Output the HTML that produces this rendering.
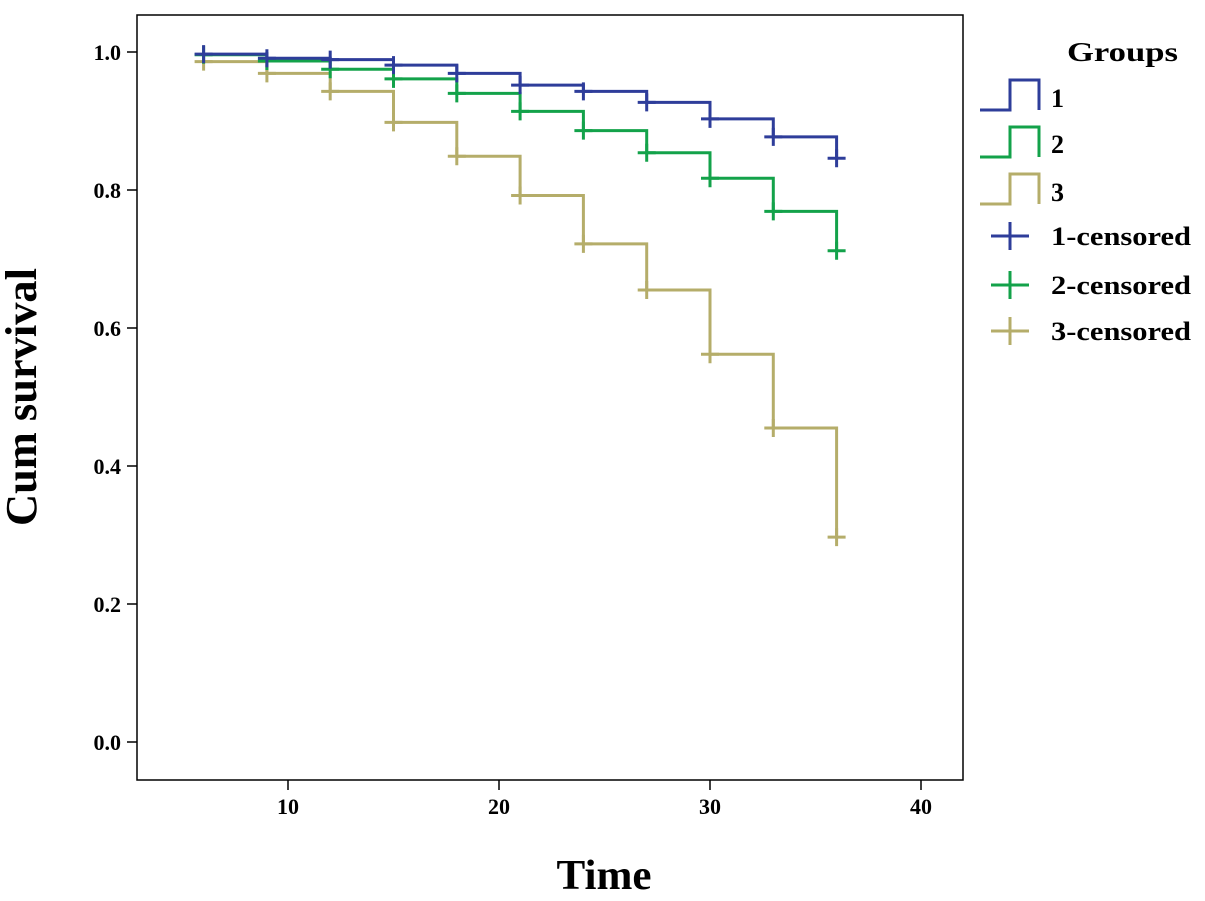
<!DOCTYPE html>
<html><head><meta charset="utf-8"><style>
body{margin:0;background:#fff;}
svg{display:block;font-family:"Liberation Serif",serif;font-weight:bold;}
</style></head><body>
<svg id="chart" width="1205" height="901" viewBox="0 0 1205 901">
<rect x="137" y="15" width="826" height="765" fill="none" stroke="#000" stroke-width="1.5"/>
<g id="axes"></g>
<g id="series"></g>
<text x="36" y="397" font-size="44" text-anchor="middle" textLength="258" lengthAdjust="spacingAndGlyphs" transform="rotate(-90 36 397)">Cum survival</text>
<text x="604" y="889" font-size="42" text-anchor="middle" textLength="95" lengthAdjust="spacingAndGlyphs">Time</text>
<g>
<text x="1067" y="61" font-size="27" textLength="111" lengthAdjust="spacingAndGlyphs">Groups</text>
<g><path d="M980 110H1010V80H1039V110" fill="none" stroke="#2e3d9a" stroke-width="3"/><text x="1051" y="107" font-size="26">1</text></g>
<g><path d="M980 157H1010V127H1039V157" fill="none" stroke="#13a24a" stroke-width="3"/><text x="1051" y="153" font-size="26">2</text></g>
<g><path d="M980 204H1010V174H1039V204" fill="none" stroke="#b5ad6a" stroke-width="3"/><text x="1051" y="201" font-size="26">3</text></g>
<g><path d="M991 236H1029M1010 222V250" stroke="#2e3d9a" stroke-width="3"/><text x="1051" y="245" font-size="26" textLength="140" lengthAdjust="spacingAndGlyphs">1-censored</text></g>
<g><path d="M991 285H1029M1010 271V299" stroke="#13a24a" stroke-width="3"/><text x="1051" y="294" font-size="26" textLength="140" lengthAdjust="spacingAndGlyphs">2-censored</text></g>
<g><path d="M991 331H1029M1010 317V345" stroke="#b5ad6a" stroke-width="3"/><text x="1051" y="340" font-size="26" textLength="140" lengthAdjust="spacingAndGlyphs">3-censored</text></g>
</g>
</svg>
<script>
const times=[6,9,12,15,18,21,24,27,30,33,36];
const group1=[0.997,0.991,0.989,0.981,0.969,0.952,0.943,0.927,0.903,0.877,0.846];
const group2=[0.996,0.987,0.975,0.961,0.940,0.914,0.886,0.854,0.817,0.769,0.712];
const group3=[0.986,0.969,0.943,0.898,0.849,0.792,0.722,0.655,0.562,0.455,0.297];
const xTicks=[10,20,30,40];
const yTicks=[0,0.2,0.4,0.6,0.8,1.0];
const NS="http://www.w3.org/2000/svg";
const xs=t=>288+(t-10)*21.1;
const ys=v=>742-v*690;
function mk(tag,attrs,parent){const e=document.createElementNS(NS,tag);for(const k in attrs)e.setAttribute(k,attrs[k]);parent.appendChild(e);return e;}
const axes=document.getElementById('axes');
xTicks.forEach(t=>{
  const l=mk('line',{x1:xs(t),x2:xs(t),y1:780,y2:790,stroke:'#000','stroke-width':1.5},axes);
  
  
  const tx=mk('text',{x:xs(t),y:814,'font-size':22,'text-anchor':'middle'},axes);
  tx.textContent=t;
  
  
});
yTicks.forEach(v=>{
  const l=mk('line',{x1:127,x2:137,y1:ys(v),y2:ys(v),stroke:'#000','stroke-width':1.5},axes);
  
  
  const tx=mk('text',{x:121,y:ys(v)+8,'font-size':22,'text-anchor':'end'},axes);
  tx.textContent=v.toFixed(1);
  
  
});
const series=document.getElementById('series');
function draw(vals,color,idx){
  const g=mk('g',{},series);
  
  
  let d='M'+xs(times[0])+' '+ys(vals[0]);
  for(let i=1;i<times.length;i++){d+='H'+xs(times[i])+'V'+ys(vals[i]);}
  mk('path',{d:d,fill:'none',stroke:color,'stroke-width':3},g);
  times.forEach((t,i)=>{
    const x=xs(t),y=ys(vals[i]);
    const c=mk('path',{d:'M'+(x-9)+' '+y+'H'+(x+9)+'M'+x+' '+(y-9)+'V'+(y+9),stroke:color,'stroke-width':3},g);
    
    
  });
}
draw(group3,'#b5ad6a',3);
draw(group2,'#13a24a',2);
draw(group1,'#2e3d9a',1);
</script>
</body></html>
